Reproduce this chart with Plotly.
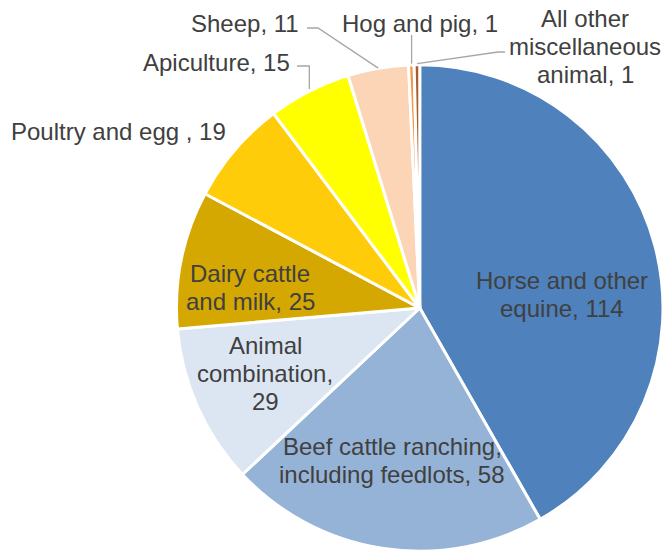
import math
import plotly.graph_objects as go

categories = ["Horse and other equine", "Beef cattle ranching, including feedlots",
              "Animal combination", "Dairy cattle and milk", "Poultry and egg ",
              "Apiculture", "Sheep", "Hog and pig", "All other miscellaneous animal"]
values = [114, 58, 29, 25, 19, 15, 11, 1, 1]
label_texts = ["Horse and other<br>equine, 114", "Beef cattle ranching,<br>including feedlots, 58",
               "Animal<br>combination,<br>29", "Dairy cattle<br>and milk, 25", "Poultry and egg , 19",
               "Apiculture, 15", "Sheep, 11", "Hog and pig, 1", "All other<br>miscellaneous<br>animal, 1"]
colors = ["#4F81BD", "#95B3D7", "#DCE6F2", "#D4A800", "#FFCC0A", "#FFFF00", "#FBD5B5", "#F79646", "#A65E2E"]

W, H = 663, 552
CX, CY, R = 420.0, 308.0, 243.5
FS = 24
LH = 28

fig = go.Figure(go.Pie(
    labels=categories, values=values, sort=False, direction="clockwise", rotation=0,
    marker=dict(colors=colors, line=dict(color="white", width=3)),
    textinfo="none", hoverinfo="label+value",
    domain=dict(x=[(CX - R) / W, 1.0], y=[1 - (CY + R) / H, 1 - (CY - R) / H]),
    showlegend=False,
))

def px(x, y):
    return x / W, 1 - y / H

# label centre positions (pixel): x, y, xanchor
label_pos = [(562, 294, "center"), (392, 460, "center"), (265, 373, "center"), (250, 287, "center"),
             (228, 132, "right"), (292, 62, "right"), (301, 24, "right"), (420, 24, "center"),
             (585, 46, "center")]

annotations = []
for txt, (x, y, xa) in zip(label_texts, label_pos):
    lines = txt.split("<br>")
    n = len(lines)
    for k, ln in enumerate(lines):
        ly = y + (k - (n - 1) / 2) * LH
        ax, ay = px(x, ly)
        annotations.append(dict(x=ax, y=ay, xref="paper", yref="paper", text=ln, showarrow=False,
                                xanchor=xa, yanchor="middle", align="center",
                                font=dict(family="Liberation Sans, Arial", size=FS, color="#404040")))

# leader lines from slice edges (mid angle) computed from data
total = sum(values)
cum = 0
mids = []
for v in values:
    mids.append((cum + v / 2) / total * 2 * math.pi)
    cum += v

def edge(i, rr=1.0):
    a = mids[i]
    return CX + R * rr * math.sin(a), CY - R * rr * math.cos(a)

shapes = []
def line_path(points):
    pts = [px(x, y) for x, y in points]
    d = "M " + " L ".join(f"{x:.5f},{y:.5f}" for x, y in pts)
    shapes.append(dict(type="path", path=d, xref="paper", yref="paper",
                       line=dict(color="#A6A6A6", width=1.3)))

ex, ey = edge(5)
line_path([(297, 66), (ex, 66), (ex, ey - 2)])
ex, ey = edge(6)
line_path([(307, 28), (318, 28), (ex, ey)])
ex, ey = edge(7)
line_path([(ex, 35), (ex, ey - 1)])
ex, ey = edge(8)
line_path([(ex, ey - 1), (498, 52), (505, 52)])

fig.update_layout(width=W, height=H, margin=dict(l=0, r=0, t=0, b=0),
                  paper_bgcolor="white", plot_bgcolor="white",
                  annotations=annotations, shapes=shapes)

fig.write_html("out.html", config={"displayModeBar": False},
               post_script="document.body.style.margin='0px';")
